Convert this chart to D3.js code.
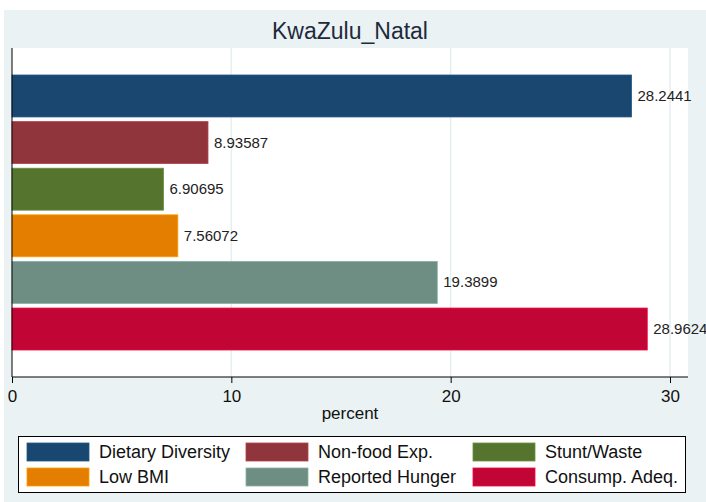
<!DOCTYPE html>
<html>
<head>
<meta charset="utf-8">
<script src="https://cdn.jsdelivr.net/npm/d3@7"></script>
<style>
  body { margin: 0; background: #fff; }
  svg { display: block; }
</style>
</head>
<body>
<svg id="graph"></svg>
<script>
var width = 706, height = 502;

// data
var categories = ["Dietary Diversity", "Non-food Exp.", "Stunt/Waste", "Low BMI", "Reported Hunger", "Consump. Adeq."];
var values = [28.2441, 8.93587, 6.90695, 7.56072, 19.3899, 28.9624];
var labels = ["28.2441", "8.93587", "6.90695", "7.56072", "19.3899", "28.9624"];
var xTicks = [0, 10, 20, 30];
var color = ["#1a476f", "#90353b", "#55752f", "#e37e00", "#6e8e84", "#c10534"];

var font = "'Liberation Sans Narrow', 'Arial Narrow', 'Liberation Sans', sans-serif";

var svg = d3.select("#graph")
	.attr("width", width)
	.attr("height", height);

// outer background
svg.append("rect")
	.attr("x", 4).attr("y", 10)
	.attr("width", width - 4).attr("height", height - 10)
	.attr("fill", "#eaf2f3");

var plot = {left: 12, right: 688, top: 48, bottom: 377};

svg.append("rect")
	.attr("x", plot.left).attr("y", plot.top)
	.attr("width", plot.right - plot.left).attr("height", plot.bottom - plot.top)
	.attr("fill", "#ffffff");

var x = d3.scaleLinear()
	.domain([0, 30])
	.range([plot.left, 670]);

var y = d3.scaleBand()
	.domain(categories)
	.range([plot.top + 27, plot.bottom - 27])
	.paddingInner(0.1)
	.paddingOuter(0);

// grid lines
svg.selectAll(".grid")
	.data(xTicks.slice(1))
	.enter()
	.append("line")
	.attr("x1", d => x(d)).attr("x2", d => x(d))
	.attr("y1", plot.top).attr("y2", plot.bottom)
	.attr("stroke", "#e6eef1")
	.attr("stroke-width", 1.5);

svg.append("text")
	.attr("x", 350)
	.attr("y", 39)
	.attr("text-anchor", "middle")
	.attr("font-family", font)
	.attr("font-size", "23px")
	.attr("fill", "#1e2a3c")
	.text("KwaZulu_Natal");

// bars
svg.selectAll(".bar")
	.data(categories)
	.enter()
	.append("rect")
	.attr("x", x(0))
	.attr("y", d => y(d))
	.attr("width", (d, i) => x(values[i]) - x(0))
	.attr("height", y.bandwidth())
	.attr("fill", (d, i) => color[i])
	.attr("stroke", (d, i) => d3.color(color[i]).brighter(0.6))
	.attr("stroke-width", 0.8);

svg.selectAll(".val")
	.data(categories)
	.enter()
	.append("text")
	.attr("x", (d, i) => x(values[i]) + 6)
	.attr("y", d => y(d) + y.bandwidth() / 2 + 5)
	.attr("font-family", "'Liberation Sans', Arial, sans-serif")
	.attr("font-size", "15px")
	.attr("fill", "#222")
	.text((d, i) => labels[i]);

// axes
var xAxis = d3.axisBottom(x)
	.tickValues(xTicks)
	.tickSize(6)
	.tickFormat(d3.format("d"));

var gx = svg.append("g")
	.attr("transform", "translate(0," + plot.bottom + ")")
	.call(xAxis);
gx.select(".domain").attr("d", "M" + plot.left + ",0H" + plot.right).attr("stroke", "#000");
gx.selectAll(".tick line").attr("stroke", "#000");
gx.selectAll(".tick text")
	.attr("font-family", font)
	.attr("font-size", "17px")
	.attr("fill", "#111")
	.attr("dy", "0.95em");

svg.append("line")
	.attr("x1", plot.left).attr("x2", plot.left)
	.attr("y1", plot.top).attr("y2", plot.bottom)
	.attr("stroke", "#000");

svg.append("text")
	.attr("x", 350)
	.attr("y", 419)
	.attr("text-anchor", "middle")
	.attr("font-family", font)
	.attr("font-size", "17px")
	.attr("fill", "#111")
	.text("percent");

// legend
var legend = svg.append("g");
legend.append("rect")
	.attr("x", 18.5).attr("y", 436.5)
	.attr("width", 667).attr("height", 56)
	.attr("fill", "#fff")
	.attr("stroke", "#000");

var colX = [27, 246, 473];
var rowY = [443, 468];
var items = legend.selectAll(".item")
	.data(categories)
	.enter()
	.append("g")
	.attr("transform", (d, i) => "translate(" + colX[i % 3] + "," + rowY[Math.floor(i / 3)] + ")");
items.append("rect")
	.attr("width", 62).attr("height", 18)
	.attr("fill", (d, i) => color[i])
	.attr("stroke", (d, i) => d3.color(color[i]).brighter(0.6))
	.attr("stroke-width", 0.8);
items.append("text")
	.attr("x", 72)
	.attr("y", 15)
	.attr("font-family", font)
	.attr("font-size", "18px")
	.attr("fill", "#111")
	.text(d => d);
</script>
</body>
</html>
